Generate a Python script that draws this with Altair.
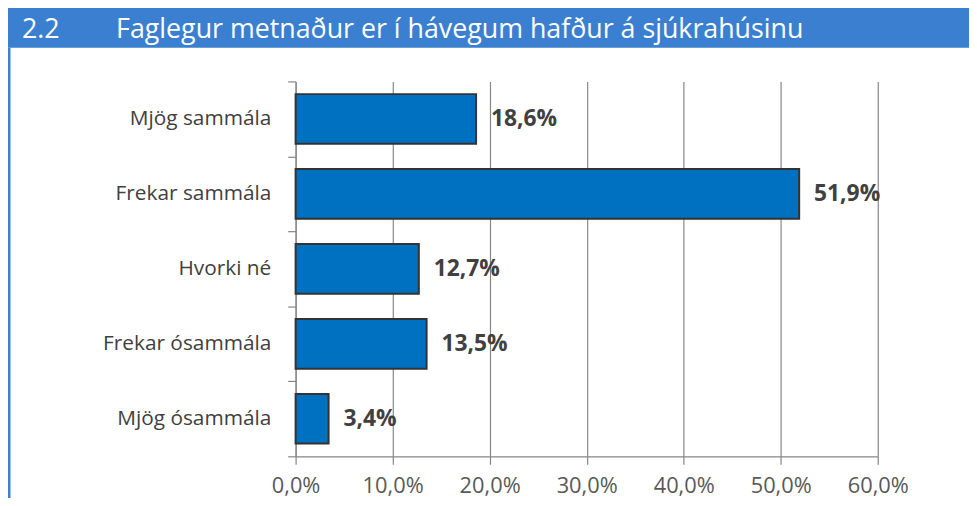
import altair as alt
import pandas as pd

categories = ["Mjög sammála", "Frekar sammála", "Hvorki né", "Frekar ósammála", "Mjög ósammála"]
values = [18.6, 51.9, 12.7, 13.5, 3.4]
value_labels = ["18,6%", "51,9%", "12,7%", "13,5%", "3,4%"]
x_ticks = [0, 10, 20, 30, 40, 50, 60]
title_number = "2.2"
title_text = "Faglegur metnaður er í hávegum hafður á sjúkrahúsinu"

df = pd.DataFrame({"cat": categories, "val": values, "lab": value_labels})
one = alt.Data(values=[{}])

FONT = "Open Sans"
BLUE_BAR = "#0070C0"
BLUE_HEAD = "#3A7FD0"
GRID = "#868686"

W, H = 587, 378
LP = 290

x_enc = alt.X("val:Q", scale=alt.Scale(domain=[0, 60], nice=False, zero=True),
              axis=alt.Axis(values=x_ticks, grid=True, gridColor=GRID, gridWidth=1.2,
                            domainColor=GRID, domainWidth=1.2, tickColor=GRID, tickWidth=1.2,
                            tickSize=8, labelFontSize=22, labelColor="#595959", labelFont=FONT,
                            labelPadding=11, labelFlush=False, labelOverlap=False, title=None,
                            labelExpr="replace(format(datum.value, '.1f'), '.', ',') + '%'"))
y_enc = alt.Y("cat:N", sort=categories,
              scale=alt.Scale(paddingInner=0, paddingOuter=0),
              axis=alt.Axis(title=None, tickBand="extent", grid=False, domainColor=GRID,
                            domainWidth=1.2, tickColor=GRID, tickWidth=1.2, tickSize=8,
                            labelFontSize=21, labelColor="#404040", labelFont=FONT,
                            labelPadding=17))

bars = alt.Chart(df).mark_bar(size=50, color=BLUE_BAR, stroke="#333333", strokeWidth=2).encode(
    x=x_enc, y=y_enc)
labels = alt.Chart(df).mark_text(align="left", baseline="middle", dx=15, fontSize=23,
                                 fontWeight="bold", color="#404040", font=FONT).encode(
    x=alt.X("val:Q"), y=alt.Y("cat:N", sort=categories), text="lab:N")

head = alt.Chart(one).mark_rect(color=BLUE_HEAD).encode(
    x=alt.value(-LP), x2=alt.value(700), y=alt.value(-80), y2=alt.value(-34))
num = alt.Chart(one).mark_text(align="left", baseline="middle", fontSize=27, color="white",
                               font=FONT).encode(
    x=alt.value(22 - 8 - LP), y=alt.value(-52), text=alt.value(title_number))
ttl = alt.Chart(one).mark_text(align="left", baseline="middle", fontSize=27, color="white",
                               font=FONT).encode(
    x=alt.value(117 - 8 - LP), y=alt.value(-52), text=alt.value(title_text))
border = alt.Chart(one).mark_rule(color=BLUE_HEAD, strokeWidth=3).encode(
    x=alt.value(-LP + 1), y=alt.value(-34), y2=alt.value(440))

chart = alt.layer(head, border, bars, labels, num, ttl).properties(
    width=W, height=H,
    autosize=alt.AutoSizeParams(type="none"),
    padding={"left": LP, "top": 72, "right": 969 - LP - W, "bottom": 40},
).configure_view(stroke=None)

chart.save("out.html", embed_options={"renderer": "svg", "actions": False})
